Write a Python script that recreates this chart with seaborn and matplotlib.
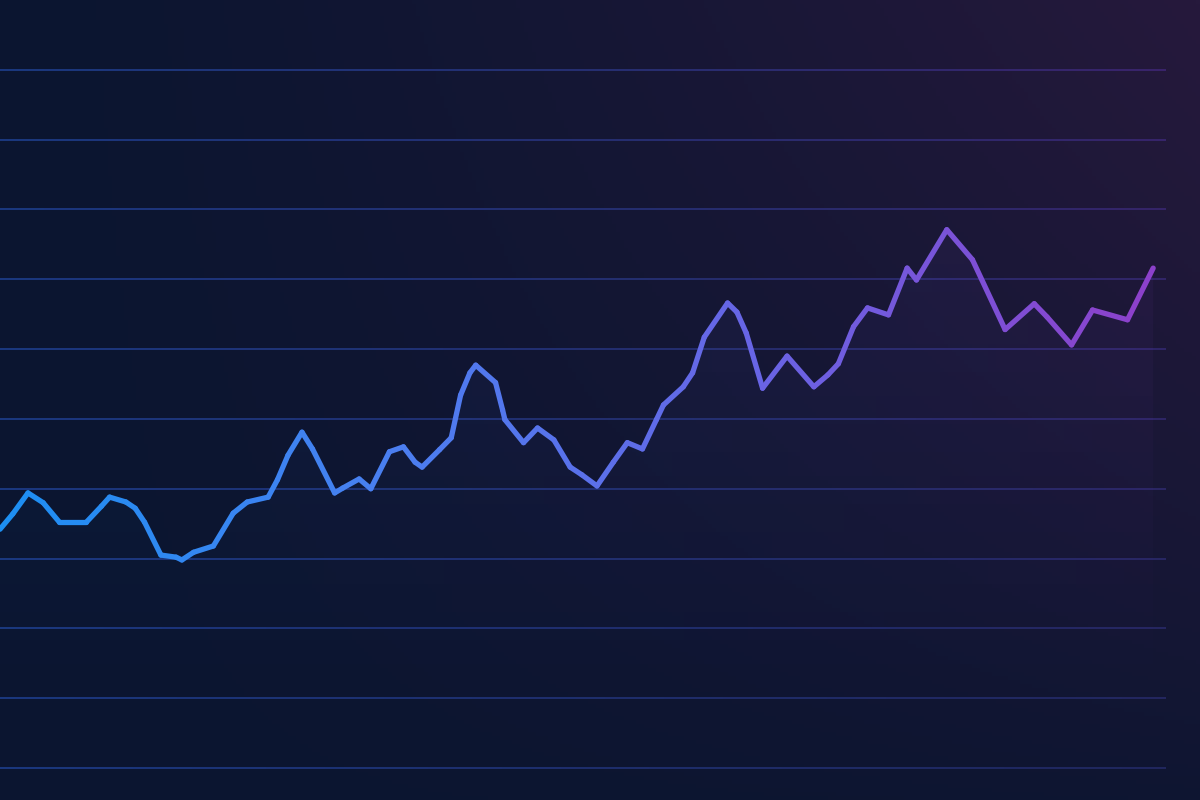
import matplotlib
matplotlib.use("Agg")
import matplotlib.pyplot as plt
from matplotlib.collections import LineCollection
from matplotlib.colors import LinearSegmentedColormap, to_rgb
import numpy as np
import pandas as pd
import seaborn as sns

# series (x: % of period, y: index value)
t = [0.0, 1.1, 2.4, 3.7, 5.1, 7.4, 8.7, 9.4, 10.8, 11.6, 12.4, 13.8, 15.1, 15.6,
     16.6, 18.3, 20.0, 21.2, 23.0, 23.8, 24.7, 25.9, 26.8, 28.7, 29.4, 30.8, 31.8,
     33.4, 34.6, 35.6, 36.2, 37.7, 38.7, 39.5, 40.3, 40.8, 42.5, 43.1, 43.3, 44.9,
     46.1, 47.5, 48.9, 49.9, 51.2, 52.6, 53.8, 55.1, 56.3, 56.9, 58.6, 59.4, 60.4,
     62.4, 63.2, 64.0, 65.4, 67.5, 69.8, 71.0, 71.9, 73.2, 74.4, 76.2, 77.8, 78.6,
     81.2, 83.4, 86.2, 88.7, 89.8, 91.9, 93.7, 96.7, 98.9]
value = [34.2, 36.4, 39.4, 38.0, 35.2, 35.2, 37.5, 38.8, 38.1, 37.2, 35.2, 30.5,
         30.2, 29.8, 30.9, 31.8, 36.5, 38.1, 38.8, 41.3, 44.8, 48.1, 45.7, 39.4,
         40.1, 41.4, 40.0, 45.3, 46.0, 43.8, 43.1, 45.6, 47.3, 53.4, 56.6, 57.7,
         55.2, 51.3, 49.9, 46.6, 48.7, 47.0, 43.1, 42.0, 40.4, 43.8, 46.6, 45.7,
         49.9, 52.0, 54.6, 56.6, 61.7, 66.6, 65.3, 62.3, 54.4, 59.0, 54.6, 56.3,
         57.9, 63.2, 65.9, 64.9, 71.6, 69.9, 77.1, 72.8, 62.8, 66.5, 64.6, 60.6,
         65.6, 64.2, 71.6]
grid_levels = [0, 10, 20, 30, 40, 50, 60, 70, 80, 90, 100]

line_cmap = LinearSegmentedColormap.from_list("line", ["#1c8ff2", "#4a7ff0", "#6a63e4", "#8e3fc9"])
grid_cmap = LinearSegmentedColormap.from_list("grid", ["#1b3880", "#262f72", "#3a246c"])

sns.set_theme(style="dark")

fig = plt.figure(figsize=(12, 8), dpi=100)
ax = fig.add_axes([0, 0, 1, 1])
xmin, xmax = 0, 1200 / 11.66
ymin, ymax = -4.58, 110.0
ax.set_xlim(xmin, xmax)
ax.set_ylim(ymin, ymax)
ax.axis("off")

# background gradient: navy, turning purple toward the top right
gx, gy = np.meshgrid(np.linspace(0, 1, 300), np.linspace(0, 1, 200))
w = np.clip(gx ** 1.3 * (0.12 + 0.88 * gy ** 0.8), 0, 1)
c0 = np.array(to_rgb("#0b1530"))
c1 = np.array(to_rgb("#26193c"))
bg = c0[None, None, :] * (1 - w[..., None]) + c1[None, None, :] * w[..., None]
ax.imshow(bg, extent=[xmin, xmax, ymin, ymax], origin="lower", aspect="auto", zorder=0)

# grid lines, fading from blue to purple
xs = np.linspace(0, 100, 80)
for g in grid_levels:
    segs = [[(xs[i], g), (xs[i + 1], g)] for i in range(len(xs) - 1)]
    cols = grid_cmap(xs[:-1] / 100 * (0.55 + 0.45 * g / 100))
    cols[:, 3] = 1 - 0.3 * (xs[:-1] / 100) * (1 - g / 100)
    lc = LineCollection(segs, colors=cols, linewidths=1.4, zorder=1)
    ax.add_collection(lc)

# soft fill under the line
fill = ax.fill_between(t, value, ymin, color="none", zorder=2)
fx, fy = np.meshgrid(np.linspace(0, 1, 300), np.linspace(0, 1, 200))
glow = np.zeros((200, 300, 4))
glow[..., :3] = line_cmap(fx)[..., :3]
glow[..., 3] = 0.07 * np.clip((fy - 0.1) / 0.6, 0, 1)
im = ax.imshow(glow, extent=[xmin, xmax, ymin, ymax], origin="lower", aspect="auto", zorder=2)
im.set_clip_path(fill.get_paths()[0], transform=ax.transData)

# line drawn segment by segment so the colour runs left to right
rows = []
for i in range(len(t) - 1):
    rows.append({"t": t[i], "value": value[i], "seg": i})
    rows.append({"t": t[i + 1], "value": value[i + 1], "seg": i})
df = pd.DataFrame(rows)
palette = [line_cmap(((t[i] + t[i + 1]) / 2) / 100) for i in range(len(t) - 1)]
sns.lineplot(data=df, x="t", y="value", hue="seg", palette=palette, estimator=None,
             linewidth=3.8, legend=False, ax=ax, zorder=3)
for ln in ax.get_lines():
    ln.set_solid_capstyle("round")
    ln.set_solid_joinstyle("round")

ax.set_xlim(xmin, xmax)
ax.set_ylim(ymin, ymax)
fig.savefig("out.png", dpi=100)
plt.close()
